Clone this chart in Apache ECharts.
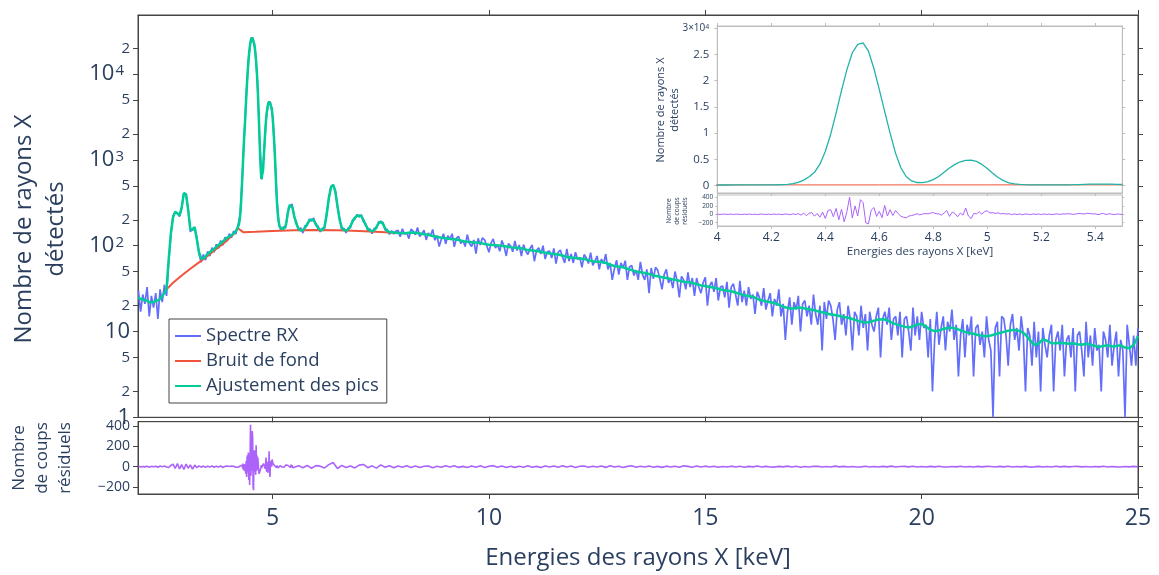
<!DOCTYPE html>
<html><head><meta charset="utf-8">
<script src="https://cdn.jsdelivr.net/npm/echarts@6.0.0/dist/echarts.min.js"></script>
<style>html,body{margin:0;padding:0;background:#fff}#chart{width:1159px;height:575px}</style>
</head><body><div id="chart"></div>
<script>
// ---------------- DATA ----------------
// Spectrum channels: energies 1.90 .. 25.00 keV, step 0.05 keV
const spectrumStart = 1.90, spectrumStep = 0.05;
const spectrum = [
  30, 17, 27, 21, 33, 15, 26, 19, 28, 14, 31, 22, 35, 26, 64, 136, 222, 244, 241, 219,
  275, 412, 392, 268, 145, 160, 158, 124, 80, 64, 79, 68, 86, 76, 95, 84, 104, 93, 115, 101,
  126, 113, 138, 124, 148, 137, 172, 231, 612, 2130, 6560, 15950, 25400, 26450, 18250, 8150, 1680, 592, 1140, 2980,
  4580, 4720, 3270, 1230, 342, 171, 149, 166, 161, 246, 288, 305, 214, 190, 149, 162, 141, 171, 172, 205,
  194, 210, 172, 170, 145, 160, 158, 240, 348, 492, 505, 440, 282, 208, 152, 160, 141, 162, 163, 200,
  204, 231, 216, 230, 190, 182, 150, 157, 138, 160, 158, 190, 185, 188, 152, 155, 136, 150, 137, 148,
  151, 127, 158, 136, 143, 121, 156, 148, 134, 163, 128, 138, 152, 117, 141, 130, 155, 116, 131, 98,
  119, 138, 105, 131, 119, 138, 97, 123, 128, 106, 116, 98, 135, 106, 98, 117, 81, 122, 102, 124,
  117, 100, 84, 108, 120, 94, 103, 86, 115, 98, 76, 106, 100, 85, 114, 88, 102, 76, 103, 87,
  79, 93, 102, 66, 88, 95, 80, 100, 70, 85, 87, 72, 93, 62, 84, 89, 74, 63, 92, 66,
  80, 63, 84, 69, 73, 56, 79, 72, 62, 83, 59, 66, 76, 53, 70, 62, 80, 53, 63, 40,
  54, 68, 46, 63, 55, 67, 40, 57, 59, 45, 52, 40, 65, 46, 40, 53, 28, 55, 41, 56,
  52, 41, 31, 46, 53, 37, 42, 32, 50, 39, 25, 44, 40, 31, 49, 33, 42, 26, 42, 33,
  28, 37, 43, 20, 34, 38, 29, 42, 23, 33, 34, 25, 38, 19, 33, 36, 27, 20, 39, 22,
  30, 20, 33, 24, 27, 16, 29, 25, 20, 32, 18, 23, 28, 15, 24, 20, 31, 15, 21, 8,
  17, 25, 12, 22, 18, 26, 10, 21, 23, 15, 20, 12, 27, 16, 12, 20, 6, 22, 14, 23,
  20, 14, 8, 18, 22, 12, 16, 9, 20, 14, 6, 17, 15, 9, 20, 11, 16, 6, 17, 12,
  10, 15, 19, 5, 14, 17, 12, 19, 8, 14, 15, 9, 17, 5, 14, 15, 10, 6, 19, 9,
  15, 8, 17, 11, 12, 5, 14, 2, 8, 17, 7, 11, 15, 6, 13, 10, 18, 8, 12, 3,
  9, 14, 5, 12, 9, 15, 3, 11, 12, 7, 10, 5, 15, 8, 6, 1, 11, 13, 3, 15,
  14, 9, 4, 12, 16, 8, 11, 6, 15, 9, 2, 11, 9, 4, 13, 5, 10, 2, 11, 7,
  5, 9, 12, 2, 8, 10, 6, 12, 3, 8, 9, 5, 11, 2, 9, 10, 6, 3, 13, 5,
  9, 4, 11, 6, 7, 2, 10, 8, 5, 12, 4, 7, 10, 3, 8, 6, 1, 12, 7, 4,
  9, 4, 11
];

// Peak fit, in segments
const fitLow = [ // 1.90 .. 3.95, step 0.05
  25, 24, 24, 23, 23, 22, 22, 22, 23, 23, 24, 26, 28, 32, 70, 140, 215, 250, 238, 226,
  280, 410, 400, 260, 155, 152, 165, 118, 84, 71, 71, 75, 80, 84, 88, 92, 97, 102, 107, 112,
  118, 124
];
const insetFit = [ // 4.00 .. 5.50, step 0.02
  128, 130, 132, 134, 136, 139, 142, 146, 151, 157,
  165, 175, 200, 250, 380, 620, 1050, 1700, 2550, 4100,
  6500, 9800, 13800, 18100, 22100, 25300, 26900, 27200, 25600, 22300,
  18300, 14100, 10000, 6200, 3400, 1700, 900, 600, 570, 760,
  1150, 1750, 2550, 3350, 4050, 4550, 4820, 4880, 4620, 4050,
  3250, 2350, 1550, 950, 540, 330, 235, 190, 170, 162,
  158, 157, 157, 158, 162, 170, 188, 218, 252, 282,
  300, 306, 298, 278, 250, 222
];
const fitMid = [ // 5.55 .. 7.95, step 0.05
  180, 158, 150, 152, 162, 180, 196, 202, 198,
  180, 162, 153, 152, 165, 230, 360, 480, 515, 430, 290, 200, 162, 152, 150, 155, 170, 192, 212, 222,
  225, 222, 200, 175, 158, 150, 148, 152, 165, 182, 192, 180, 160, 148, 145, 144, 143, 142, 141, 141
];
const fitHigh = [ // 8.0 .. 25.0, step 0.1
  140, 141, 143, 142, 139, 136, 134, 130, 127, 124,
  122, 120, 119, 117, 113, 111, 110, 109, 108, 105,
  103, 102, 101, 100, 98, 96, 95, 94, 92, 89,
  88, 87, 85, 83, 81, 80, 79, 77, 74, 73,
  72, 71, 70, 68, 66, 65, 65, 63, 60, 58,
  57, 56, 54, 52, 50, 49, 48, 47, 45, 44,
  43, 42, 41, 40, 39, 38, 37.5, 37, 35.5, 34.5,
  34, 33, 32.5, 31.5, 30.5, 30, 29.5, 28.5, 27.5, 26.5,
  26, 25.5, 24, 23, 22.5, 22, 21.5, 20.5, 19.5, 18.8,
  18.5, 18.8, 19, 18.6, 18.2, 17.8, 17.2, 16.8, 16.3, 15.8,
  15.6, 15.2, 14.8, 14.5, 14, 13.5, 13, 12.7, 12.9, 13.4,
  13.8, 13.9, 13.6, 12.8, 12.2, 11.8, 11.4, 11.1, 11.5, 12.1,
  12.2, 11.4, 10.5, 10.1, 10.3, 10.7, 11, 11.1, 10.8, 10.3,
  9.9, 9.6, 9.4, 9.1, 8.9, 8.8, 9, 9.3, 9.6, 9.9,
  10.2, 10.4, 10.4, 10, 9.2, 8, 7, 7.2, 8.1, 7.8,
  7.3, 7.3, 7.4, 7.3, 7.2, 7.3, 7.1, 7, 7.2, 7,
  6.8, 6.6, 6.8, 6.9, 6.7, 6.8, 6.9, 6.5, 6.4, 7,
  8.8
];

// Background (Bruit de fond)
const bgEnergy = [2.55, 2.7, 2.9, 3.1, 3.3, 3.5, 3.7, 3.9, 4.1, 4.2, 4.32, 4.6, 5.0, 5.5, 6.0, 6.5, 7.0, 7.5, 8.0];
const bgCounts = [31, 37, 45, 54, 64, 76, 92, 110, 137, 160, 144, 146, 149, 152, 153, 152, 149, 145, 140];

// Residuals
const residLow = [ // 1.90 .. 3.95, step 0.05
  3, -4, 2, -2, 5, -6, 3, -1, 4, -5, 6, -2, 7, -4,
  -8, 12, 25, -18, 30, -22, 20, -28, 26, -15, 18, -24, 15, -10, 8,
  -5, 6, -7, 4, -3, 8, -6, 5, -4, 7, -8, 3, 6
];
const insetResid = [ // 4.00 .. 5.50, step 0.01
  2, -3, 4, 1, -2, 5, -4, 3, 0, -5,
  4, -2, 6, -3, 2, -6, 5, 1, -4, 3,
  -5, 7, -2, 4, -8, 6, 2, -10, 12, -6,
  15, -20, 30, -35, 25, 40, -45, 20, -70, 55,
  -100, 90, 110, -60, 140, -130, 120, -180, 60, 410,
  -90, 200, -40, 350, 280, -200, -230, 100, 160, -50,
  70, -80, 210, -40, 110, -30, 90, 20, -50, -70,
  -85, -40, -30, -10, 15, -15, 5, 20, 10, 30,
  40, 15, 10, -20, 30, 90, -50, 50, 20, -60,
  30, -20, 150, -40, -100, 20, 10, 60, 0, 70,
  80, 30, 40, 20, 35, 10, 20, 5, 15, -10,
  10, -5, 8, -12, 6, 4, -8, 10, -4, 6,
  -6, 8, -3, 5, -7, 4, 9, -5, 12, 6,
  15, 8, -4, 10, 20, 14, 6, 25, 18, 8,
  12, -8, 10, 20, -6, 14, 4, -10, 8, 2,
  -5
];
const residHigh = [ // 5.6 .. 25.0, step 0.1
  8, -10, 12, -15, 10, 5, -12, 20, 40, -18,
  12, -8, 6, -12, 15, 22, -10, 8, -14, 18,
  -6, 9, -11, 7, -5, 10, -8, 6, -9, 4,
  7, -10, 5, -6, 9, -4, 8, -7, 3, -9,
  6, -5, 8, -9, 4, 10, -6, 7, -8, 5,
  -7, 4, -5, 9, -6, 3, -8, 7, -4, 6,
  -5, 8, -3, 6, -9, 4, 7, -6, 5, -4,
  6, -7, 10, -4, 5, -8, 3, 9, -6, 4,
  -4, 6, -5, 3, -7, 5, -3, 4, -6, 8,
  3, -5, 6, -4, 5, -3, 4, -6, 2, -4,
  5, -3, 4, -5, 3, -2, 6, -4, 3, -3,
  -4, 3, -2, 5, -3, 4, -5, 2, -3, 4,
  3, -4, 2, -3, 5, -2, 3, -4, 2, -3,
  -2, 4, -3, 2, -4, 3, -2, 5, -3, 2,
  3, -2, 4, -3, 2, -4, 3, -2, 4, -3,
  -3, 2, -2, 4, -3, 2, -4, 3, -2, 3,
  2, -3, 3, -2, 4, -3, 2, -2, 3, -4,
  -2, 3, -4, 2, -3, 4, -2, 3, -2, 2,
  3, -2, 2, -3, 2, -2, 4, -3, 2, -2,
  -3, 2, -2, 3, -2
];

// Tick labels
const xTicks = [5, 10, 15, 20, 25];
const insetXTicks = [4, 4.2, 4.4, 4.6, 4.8, 5, 5.2, 5.4];
const logTicks = [1, 2, 5, 10, 20, 50, 100, 200, 500, 1000, 2000, 5000, 10000, 20000];
const residTicks = [-200, 0, 200, 400];
const insetYTicks = [0, 5000, 10000, 15000, 20000, 25000, 30000];
const insetResidTicks = [-200, 0, 200, 400];
const seriesNames = ['Spectre RX', 'Bruit de fond', 'Ajustement des pics'];

// ---------------- BUILD ----------------
const FONT = '"Open Sans", Verdana, Arial, sans-serif';
const TXT = '#2a3f5f';
const AX = '#444';
const INS = '#bdbdbd';
const LOGMAX = 4.69;

function seq(start, step, arr) { return arr.map((v, i) => [+(start + step * i).toFixed(3), v]); }
const spectrumData = seq(spectrumStart, spectrumStep, spectrum);
const fitData = seq(1.90, 0.05, fitLow).concat(seq(4.00, 0.02, insetFit), seq(5.55, 0.05, fitMid), seq(8.0, 0.1, fitHigh));
const bgData = bgEnergy.map((e, i) => [e, bgCounts[i]]);
const residData = seq(1.90, 0.05, residLow).concat(seq(4.00, 0.01, insetResid), seq(5.6, 0.1, residHigh));
const insetFitData = seq(4.00, 0.02, insetFit);
const insetResidData = seq(4.00, 0.01, insetResid);
const logTickPos = logTicks.map(v => Math.log10(v));

function minus(v) { return v < 0 ? '\u2212' + Math.abs(v) : String(v); }

const mainX = (grid, pos) => ({
  gridIndex: grid, type: 'value', min: 1.89, max: 25, position: pos,
  axisLine: { show: true, onZero: false, lineStyle: { color: AX, width: 1 } },
  axisTick: { show: true, customValues: xTicks, length: 5, inside: false, lineStyle: { color: AX } },
  axisLabel: { show: false }, splitLine: { show: false }
});
const insetX = (grid, pos, labels) => ({
  gridIndex: grid, type: 'value', min: 4, max: 5.5, position: pos,
  axisLine: { show: true, onZero: false, lineStyle: { color: INS } },
  axisTick: { show: true, customValues: insetXTicks, length: 3, lineStyle: { color: INS } },
  axisLabel: labels ? { show: true, customValues: insetXTicks, fontSize: 12, color: TXT, fontFamily: FONT, margin: 6 } : { show: false },
  splitLine: { show: false }
});

const option = {
  animation: false,
  backgroundColor: '#fff',
  textStyle: { fontFamily: FONT },
  grid: [
    { left: 138, top: 15, width: 1000, height: 402.3, show: true, borderColor: AX, borderWidth: 1 },
    { left: 138, top: 421.7, width: 1000, height: 72.3, show: true, borderColor: AX, borderWidth: 1 },
    { left: 717.3, top: 26, width: 405, height: 167, show: true, borderColor: INS, borderWidth: 1, backgroundColor: '#fff' },
    { left: 717.3, top: 195, width: 405, height: 31, show: true, borderColor: INS, borderWidth: 1, backgroundColor: '#fff' }
  ],
  xAxis: [
    mainX(0, 'bottom'),
    mainX(0, 'top'),
    Object.assign(mainX(1, 'bottom'), {
      axisLabel: { show: true, customValues: xTicks, fontSize: 23, color: TXT, fontFamily: FONT, margin: 13 }
    }),
    mainX(1, 'top'),
    insetX(2, 'bottom', false),
    insetX(3, 'bottom', true),
    insetX(2, 'top', false)
  ],
  yAxis: [
    { gridIndex: 0, type: 'log', logBase: 10, min: 1, max: Math.pow(10, LOGMAX), show: false },
    {
      gridIndex: 0, type: 'value', min: 0, max: LOGMAX, position: 'left',
      axisLine: { show: true, lineStyle: { color: AX } },
      axisTick: { show: true, customValues: logTickPos, length: 5, lineStyle: { color: AX } },
      axisLabel: {
        show: true, customValues: logTickPos, margin: 8, color: TXT, fontFamily: FONT,
        formatter: function (v) {
          const e = Math.round(v);
          if (Math.abs(v - e) < 1e-6) {
            if (e === 0) return '{big|1}';
            if (e === 1) return '{big|10}';
            return '{big|10}{sup|' + e + '}';
          }
          return '{minor|' + Math.round(Math.pow(10, v - Math.floor(v))) + '}';
        },
        rich: {
          big: { fontSize: 22, fontFamily: FONT, color: TXT },
          sup: { fontSize: 15, fontFamily: FONT, color: TXT, verticalAlign: 'top', padding: [0, 6, 0, 1] },
          minor: { fontSize: 15, fontFamily: FONT, color: TXT }
        }
      },
      splitLine: { show: false }
    },
    {
      gridIndex: 0, type: 'value', min: 0, max: LOGMAX, position: 'right',
      axisLine: { show: true, lineStyle: { color: AX } },
      axisTick: { show: true, customValues: logTickPos, length: 5, lineStyle: { color: AX } },
      axisLabel: { show: false }, splitLine: { show: false }
    },
    {
      gridIndex: 1, type: 'value', min: -268, max: 441, position: 'left',
      axisLine: { show: true, lineStyle: { color: AX } },
      axisTick: { show: true, customValues: residTicks, length: 5, lineStyle: { color: AX } },
      axisLabel: { show: true, customValues: residTicks, formatter: minus, fontSize: 14, color: TXT, fontFamily: FONT, margin: 8 },
      splitLine: { show: false }
    },
    {
      gridIndex: 1, type: 'value', min: -268, max: 441, position: 'right',
      axisLine: { show: true, lineStyle: { color: AX } },
      axisTick: { show: true, customValues: residTicks, length: 5, lineStyle: { color: AX } },
      axisLabel: { show: false }, splitLine: { show: false }
    },
    {
      gridIndex: 2, type: 'value', min: -1395, max: 30396, position: 'left',
      axisLine: { show: true, lineStyle: { color: INS } },
      axisTick: { show: true, customValues: insetYTicks, length: 3, lineStyle: { color: INS } },
      axisLabel: {
        show: true, customValues: insetYTicks, margin: 8, color: TXT, fontFamily: FONT, fontSize: 11.5,
        formatter: function (v) {
          if (v === 30000) return '{a|3\u00d710}{s|4}';
          return String(v / 10000);
        },
        rich: { a: { fontSize: 10, color: TXT, fontFamily: FONT }, s: { fontSize: 7, color: TXT, fontFamily: FONT, verticalAlign: 'top' } }
      },
      splitLine: { show: false }
    },
    {
      gridIndex: 3, type: 'value', min: -279, max: 460, position: 'left',
      axisLine: { show: true, lineStyle: { color: INS } },
      axisTick: { show: true, customValues: insetResidTicks, length: 2, lineStyle: { color: INS } },
      axisLabel: { show: true, customValues: insetResidTicks, formatter: minus, fontSize: 6.5, color: TXT, fontFamily: FONT, margin: 4 },
      splitLine: { show: false }
    },
    {
      gridIndex: 2, type: 'value', min: -1395, max: 30396, position: 'right',
      axisLine: { show: true, lineStyle: { color: INS } },
      axisTick: { show: true, customValues: insetYTicks, length: 3, lineStyle: { color: INS } },
      axisLabel: { show: false }, splitLine: { show: false }
    },
    {
      gridIndex: 3, type: 'value', min: -279, max: 460, position: 'right',
      axisLine: { show: true, lineStyle: { color: INS } },
      axisTick: { show: true, customValues: insetResidTicks, length: 2, lineStyle: { color: INS } },
      axisLabel: { show: false }, splitLine: { show: false }
    }
  ],
  legend: {
    data: seriesNames, orient: 'vertical', left: 169, top: 319,
    icon: 'rect', itemWidth: 26, itemHeight: 2,
    backgroundColor: '#fff', borderColor: AX, borderWidth: 1, borderRadius: 0,
    padding: [7, 8, 7, 6], itemGap: 5, selectedMode: false,
    textStyle: { fontSize: 18.5, color: TXT, fontFamily: FONT, lineHeight: 20 }
  },
  series: [
    { name: seriesNames[0], type: 'line', xAxisIndex: 0, yAxisIndex: 0, data: spectrumData, symbol: 'none',
      lineStyle: { color: '#636efa', width: 1.7 }, itemStyle: { color: '#636efa' }, z: 2 },
    { name: seriesNames[1], type: 'line', xAxisIndex: 0, yAxisIndex: 0, data: bgData, symbol: 'none',
      lineStyle: { color: '#EF553B', width: 2 }, itemStyle: { color: '#EF553B' }, z: 3 },
    { name: seriesNames[2], type: 'line', xAxisIndex: 0, yAxisIndex: 0, data: fitData, symbol: 'none',
      lineStyle: { color: '#00cc96', width: 2.5 }, itemStyle: { color: '#00cc96' }, z: 4 },
    { name: 'Résidus', type: 'line', xAxisIndex: 2, yAxisIndex: 3, data: residData, symbol: 'none',
      lineStyle: { color: '#ab63fa', width: 1.6 }, itemStyle: { color: '#ab63fa' } },
    { name: 'Bruit de fond (zoom)', type: 'line', xAxisIndex: 4, yAxisIndex: 5, data: bgData, symbol: 'none',
      lineStyle: { color: '#EF553B', width: 1 }, itemStyle: { color: '#EF553B' }, z: 3 },
    { name: 'Ajustement (zoom)', type: 'line', xAxisIndex: 4, yAxisIndex: 5, data: insetFitData, symbol: 'none',
      lineStyle: { color: '#22b3a8', width: 1.3 }, itemStyle: { color: '#22b3a8' }, z: 4 },
    { name: 'Résidus (zoom)', type: 'line', xAxisIndex: 5, yAxisIndex: 6, data: insetResidData, symbol: 'none',
      lineStyle: { color: '#ab63fa', width: 1 }, itemStyle: { color: '#ab63fa' } }
  ],
  graphic: [
    { type: 'text', x: 40, y: 229, rotation: Math.PI / 2, silent: true,
      style: { text: 'Nombre de rayons X\ndétectés', fontSize: 24, fontFamily: FONT, fill: TXT, align: 'center', verticalAlign: 'middle', lineHeight: 32 } },
    { type: 'text', x: 42, y: 458, rotation: Math.PI / 2, silent: true,
      style: { text: 'Nombre\nde coups\nrésiduels', fontSize: 17, fontFamily: FONT, fill: TXT, align: 'center', verticalAlign: 'middle', lineHeight: 23 } },
    { type: 'text', x: 638, y: 558, silent: true,
      style: { text: 'Energies des rayons X [keV]', fontSize: 24, fontFamily: FONT, fill: TXT, align: 'center', verticalAlign: 'middle' } },
    { type: 'text', x: 668, y: 110, rotation: Math.PI / 2, silent: true,
      style: { text: 'Nombre de rayons X\ndétectés', fontSize: 11, fontFamily: FONT, fill: TXT, align: 'center', verticalAlign: 'middle', lineHeight: 14 } },
    { type: 'text', x: 677, y: 211, rotation: Math.PI / 2, silent: true,
      style: { text: 'Nombre\nde coups\nrésiduels', fontSize: 6.5, fontFamily: FONT, fill: TXT, align: 'center', verticalAlign: 'middle', lineHeight: 8 } },
    { type: 'text', x: 920, y: 252, silent: true,
      style: { text: 'Energies des rayons X [keV]', fontSize: 11.5, fontFamily: FONT, fill: TXT, align: 'center', verticalAlign: 'middle' } }
  ]
};

const chart = echarts.init(document.getElementById('chart'), null, { renderer: 'canvas' });
chart.setOption(option);
</script></body></html>
